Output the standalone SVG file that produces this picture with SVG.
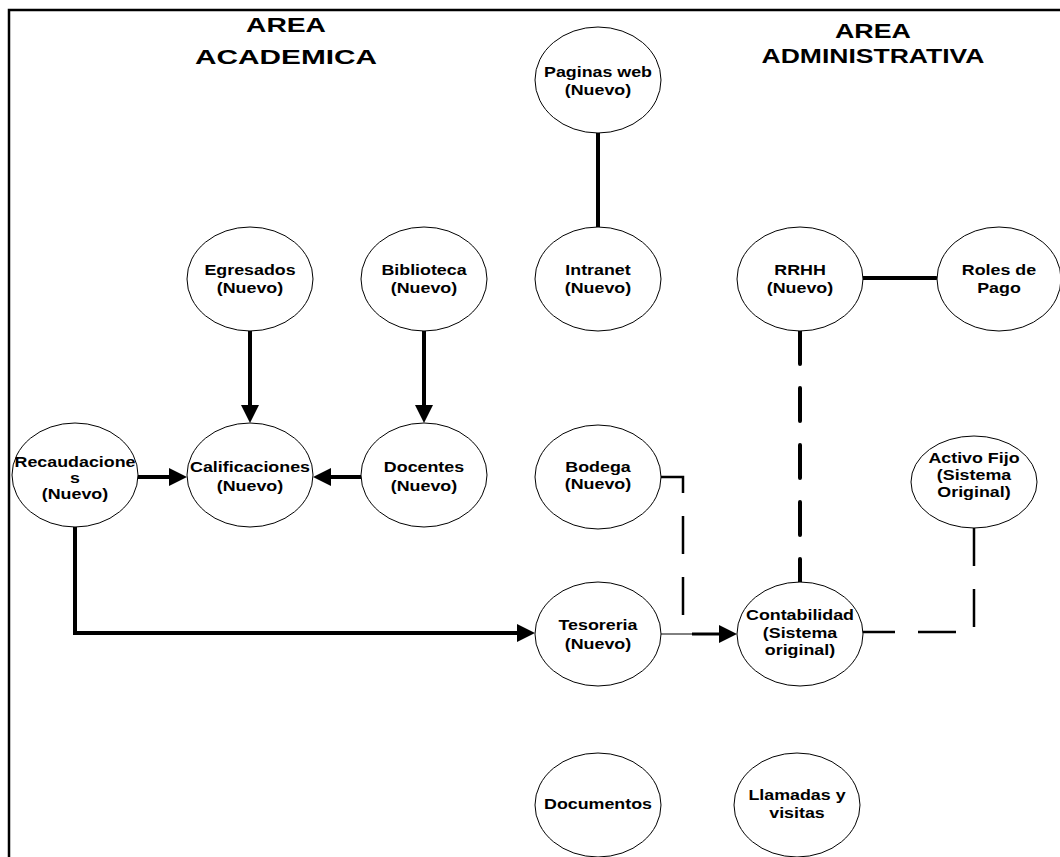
<svg xmlns="http://www.w3.org/2000/svg" width="1060" height="857" viewBox="0 0 1060 857">
  <style>
    .node ellipse { fill: #ffffff; stroke: #000000; stroke-width: 1; }
    .lbl { font-family: "Liberation Sans", Arial, sans-serif; font-weight: bold; font-size: 15px; fill: #000000; text-anchor: middle; }
    .head { font-family: "Liberation Sans", Arial, sans-serif; font-weight: bold; font-size: 21px; fill: #000000; text-anchor: middle; }
    .frame { fill: none; stroke: #000000; stroke-width: 2.5; }
    .thick { fill: none; stroke: #000000; stroke-width: 4; }
    .thin { fill: none; stroke: #000000; stroke-width: 1; }
    .mid { fill: none; stroke: #000000; stroke-width: 3; }
    .dash-thick { fill: none; stroke: #000000; stroke-width: 4; stroke-linecap: round; stroke-dasharray: 33 24; }
    .dash-thin { fill: none; stroke: #000000; stroke-width: 2.5; stroke-dasharray: 38 23; }
  </style>
  <defs>
    <marker id="arrow" markerUnits="userSpaceOnUse" markerWidth="18" markerHeight="18" refX="0" refY="9" orient="auto" viewBox="0 0 18 18">
      <path d="M0,0 L18,9 L0,18 z" fill="#000000"/>
    </marker>
  </defs>

  <rect width="1060" height="857" fill="#ffffff"/>

  <!-- page frame (left and top edges) -->
  <path class="frame" d="M9,857 V10 H1060"/>

  <!-- section headings -->
  <g id="heading-academica">
    <text class="head" x="286" y="32" textLength="80" lengthAdjust="spacingAndGlyphs">AREA</text>
    <text class="head" x="286" y="64" textLength="182" lengthAdjust="spacingAndGlyphs">ACADEMICA</text>
  </g>
  <g id="heading-administrativa">
    <text class="head" x="873" y="38" textLength="76" lengthAdjust="spacingAndGlyphs">AREA</text>
    <text class="head" x="873" y="63" textLength="223" lengthAdjust="spacingAndGlyphs">ADMINISTRATIVA</text>
  </g>

  <!-- connectors -->
  <g id="connectors">
    <line class="thick" x1="598" y1="133" x2="598" y2="227"/>
    <line class="thick" x1="250" y1="331" x2="250" y2="405" marker-end="url(#arrow)"/>
    <line class="thick" x1="424" y1="331" x2="424" y2="405" marker-end="url(#arrow)"/>
    <line class="thick" x1="138" y1="477" x2="169" y2="477" marker-end="url(#arrow)"/>
    <line class="thick" x1="361" y1="477" x2="331" y2="477" marker-end="url(#arrow)"/>
    <path class="thick" d="M75,527 V633 H517" stroke-linejoin="miter" marker-end="url(#arrow)"/>
    <line class="thin" x1="661" y1="634" x2="692" y2="634"/>
    <line class="mid" x1="692" y1="634" x2="719" y2="634" marker-end="url(#arrow)"/>
    <path class="dash-thin" d="M661,477 H683 V618"/>
    <line class="dash-thick" x1="800" y1="331" x2="800" y2="582"/>
    <path class="dash-thin" d="M974,528 V632 H862" stroke-dasharray="40 23"/>
    <line class="thick" x1="863" y1="278" x2="936" y2="278" stroke-linecap="round"/>
  </g>

  <!-- nodes -->
  <g id="n-paginas" class="node">
    <ellipse cx="598" cy="80" rx="63" ry="53"/>
    <text class="lbl" transform="matrix(1.19 0 0 1 598 77)"><tspan x="0">Paginas web</tspan><tspan x="0" dy="18">(Nuevo)</tspan></text>
  </g>
  <g id="n-intranet" class="node">
    <ellipse cx="598" cy="279" rx="63" ry="52"/>
    <text class="lbl" transform="matrix(1.19 0 0 1 598 275)"><tspan x="0">Intranet</tspan><tspan x="0" dy="18">(Nuevo)</tspan></text>
  </g>
  <g id="n-egresados" class="node">
    <ellipse cx="250" cy="279" rx="63" ry="52"/>
    <text class="lbl" transform="matrix(1.19 0 0 1 250 275)"><tspan x="0">Egresados</tspan><tspan x="0" dy="18">(Nuevo)</tspan></text>
  </g>
  <g id="n-biblioteca" class="node">
    <ellipse cx="424" cy="279" rx="63" ry="52"/>
    <text class="lbl" transform="matrix(1.19 0 0 1 424 275)"><tspan x="0">Biblioteca</tspan><tspan x="0" dy="18">(Nuevo)</tspan></text>
  </g>
  <g id="n-rrhh" class="node">
    <ellipse cx="800" cy="279" rx="63" ry="52"/>
    <text class="lbl" transform="matrix(1.19 0 0 1 800 275)"><tspan x="0">RRHH</tspan><tspan x="0" dy="18">(Nuevo)</tspan></text>
  </g>
  <g id="n-roles" class="node">
    <ellipse cx="999" cy="279" rx="62" ry="52"/>
    <text class="lbl" transform="matrix(1.19 0 0 1 999 275)"><tspan x="0">Roles de</tspan><tspan x="0" dy="18">Pago</tspan></text>
  </g>
  <g id="n-recaudaciones" class="node">
    <ellipse cx="75" cy="475" rx="63" ry="52"/>
    <text class="lbl" transform="matrix(1.19 0 0 1 75 467)"><tspan x="0">Recaudacione</tspan><tspan x="0" dy="16">s</tspan><tspan x="0" dy="16">(Nuevo)</tspan></text>
  </g>
  <g id="n-calificaciones" class="node">
    <ellipse cx="250" cy="475" rx="63" ry="52"/>
    <text class="lbl" transform="matrix(1.19 0 0 1 250 472)"><tspan x="0">Calificaciones</tspan><tspan x="0" dy="19">(Nuevo)</tspan></text>
  </g>
  <g id="n-docentes" class="node">
    <ellipse cx="424" cy="475" rx="63" ry="52"/>
    <text class="lbl" transform="matrix(1.19 0 0 1 424 472)"><tspan x="0">Docentes</tspan><tspan x="0" dy="19">(Nuevo)</tspan></text>
  </g>
  <g id="n-bodega" class="node">
    <ellipse cx="598" cy="477" rx="63" ry="52"/>
    <text class="lbl" transform="matrix(1.19 0 0 1 598 472)"><tspan x="0">Bodega</tspan><tspan x="0" dy="17">(Nuevo)</tspan></text>
  </g>
  <g id="n-activo" class="node">
    <ellipse cx="974" cy="482" rx="63" ry="46"/>
    <text class="lbl" transform="matrix(1.19 0 0 1 974 463)"><tspan x="0">Activo Fijo</tspan><tspan x="0" dy="17">(Sistema</tspan><tspan x="0" dy="17">Original)</tspan></text>
  </g>
  <g id="n-tesoreria" class="node">
    <ellipse cx="598" cy="634" rx="63" ry="52"/>
    <text class="lbl" transform="matrix(1.19 0 0 1 598 630)"><tspan x="0">Tesoreria</tspan><tspan x="0" dy="19">(Nuevo)</tspan></text>
  </g>
  <g id="n-contabilidad" class="node">
    <ellipse cx="800" cy="634" rx="63" ry="52"/>
    <text class="lbl" transform="matrix(1.19 0 0 1 800 620)"><tspan x="0">Contabilidad</tspan><tspan x="0" dy="18">(Sistema</tspan><tspan x="0" dy="17">original)</tspan></text>
  </g>
  <g id="n-documentos" class="node">
    <ellipse cx="598" cy="805" rx="63" ry="52"/>
    <text class="lbl" transform="matrix(1.19 0 0 1 598 809)">Documentos</text>
  </g>
  <g id="n-llamadas" class="node">
    <ellipse cx="797" cy="805" rx="63" ry="52"/>
    <text class="lbl" transform="matrix(1.19 0 0 1 797 800)"><tspan x="0">Llamadas y</tspan><tspan x="0" dy="18">visitas</tspan></text>
  </g>
</svg>
